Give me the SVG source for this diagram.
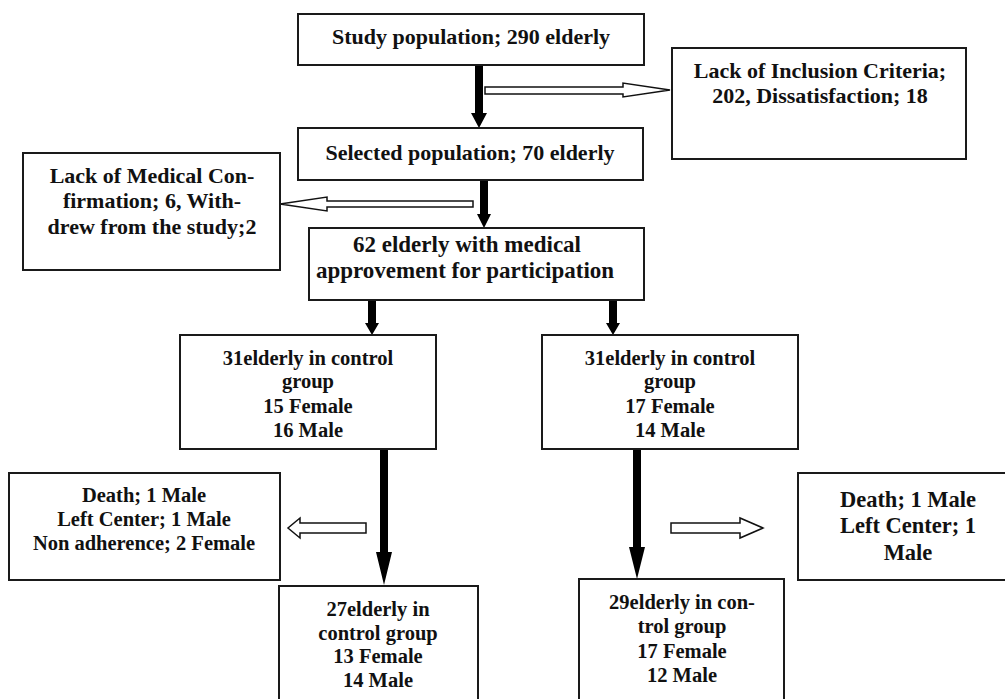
<svg xmlns="http://www.w3.org/2000/svg" width="1005" height="699" viewBox="0 0 1005 699">
<style>
.box{fill:#fff;stroke:#1a1a1a;stroke-width:2}
.t{font-family:"Liberation Serif","Times New Roman",serif;font-weight:bold;font-size:20.5px;fill:#111;text-anchor:middle}
.tt{font-size:22px}
.tm{font-size:23px}
.tl{font-size:22.5px}
.thick{fill:#000}
.hollow{fill:#fff;stroke:#111;stroke-width:1.5}
</style>
<rect width="1005" height="699" fill="#fff"/>
<g id="connectors">
<polygon class="thick" points="475,65 483,65 483,113 487,113 479,128 471,113 475,113"/>
<polygon class="thick" points="480,180 488,180 488,214 491,214 484,228 477,214 480,214"/>
<polygon class="thick" points="368,300 376,300 376,323 379,323 372,335 365,323 368,323"/>
<polygon class="thick" points="609,300 617,300 617,323 620,323 613,335 606,323 609,323"/>
<polygon class="thick" points="380,449 388,449 388,552 392,552 384,585 376,552 380,552"/>
<polygon class="thick" points="633,449 641,449 641,547 645,547 637,579 629,547 633,547"/>
<polygon class="hollow" points="485,87 623,87 623,83 670,90 623,97 623,94 485,94"/>
<polygon class="hollow" points="473,201 327,201 327,197 280,204 327,211 327,207 473,207"/>
<polygon class="hollow" points="366,523 300,523 300,518 288,528 300,538 300,533 366,533"/>
<polygon class="hollow" points="671,523 740,523 740,518 763,528 740,538 740,533 671,533"/>
</g>
<g id="study">
<rect class="box" x="298" y="14" width="346" height="51"/>
<text class="t tt" x="471" y="44">Study population; 290 elderly</text>
</g>
<g id="inclusion">
<rect class="box" x="672" y="48" width="294" height="111"/>
<text class="t tt" x="820" y="78">Lack of Inclusion Criteria;</text>
<text class="t tt" x="820" y="103">202, Dissatisfaction; 18</text>
</g>
<g id="selected">
<rect class="box" x="298" y="128" width="345" height="52"/>
<text class="t tt" x="470" y="160">Selected population; 70 elderly</text>
</g>
<g id="medical">
<rect class="box" x="23" y="153" width="257" height="117"/>
<text class="t tt" x="152" y="183">Lack of Medical Con-</text>
<text class="t tt" x="152" y="208">firmation; 6, With-</text>
<text class="t tt" x="152" y="234">drew from the study;2</text>
</g>
<g id="approved">
<rect class="box" x="309" y="228" width="335" height="72"/>
<text class="t tm" x="467" y="252">62 elderly with medical</text>
<text class="t tm" x="465" y="278">approvement for participation</text>
</g>
<g id="control-left">
<rect class="box" x="180" y="335" width="256" height="114"/>
<text class="t" x="308" y="365">31elderly in control</text>
<text class="t" x="308" y="388">group</text>
<text class="t" x="308" y="413">15 Female</text>
<text class="t" x="308" y="437">16 Male</text>
</g>
<g id="control-right">
<rect class="box" x="542" y="335" width="256" height="114"/>
<text class="t" x="670" y="365">31elderly in control</text>
<text class="t" x="670" y="388">group</text>
<text class="t" x="670" y="413">17 Female</text>
<text class="t" x="670" y="437">14 Male</text>
</g>
<g id="loss-left">
<rect class="box" x="9" y="473" width="271" height="107"/>
<text class="t" x="144" y="502">Death; 1 Male</text>
<text class="t" x="144" y="526">Left Center; 1 Male</text>
<text class="t" x="144" y="550">Non adherence; 2 Female</text>
</g>
<g id="loss-right">
<rect class="box" x="798" y="473" width="220" height="107"/>
<text class="t tl" x="908" y="507">Death; 1 Male</text>
<text class="t tl" x="908" y="533">Left Center; 1</text>
<text class="t tl" x="908" y="560">Male</text>
</g>
<g id="final-left">
<rect class="box" x="279" y="586" width="199" height="130"/>
<text class="t" x="378" y="616">27elderly in</text>
<text class="t" x="378" y="640">control group</text>
<text class="t" x="378" y="663">13 Female</text>
<text class="t" x="378" y="687">14 Male</text>
</g>
<g id="final-right">
<rect class="box" x="579" y="579" width="205" height="130"/>
<text class="t" x="682" y="609">29elderly in con-</text>
<text class="t" x="682" y="633">trol group</text>
<text class="t" x="682" y="658">17 Female</text>
<text class="t" x="682" y="682">12 Male</text>
</g>
</svg>
